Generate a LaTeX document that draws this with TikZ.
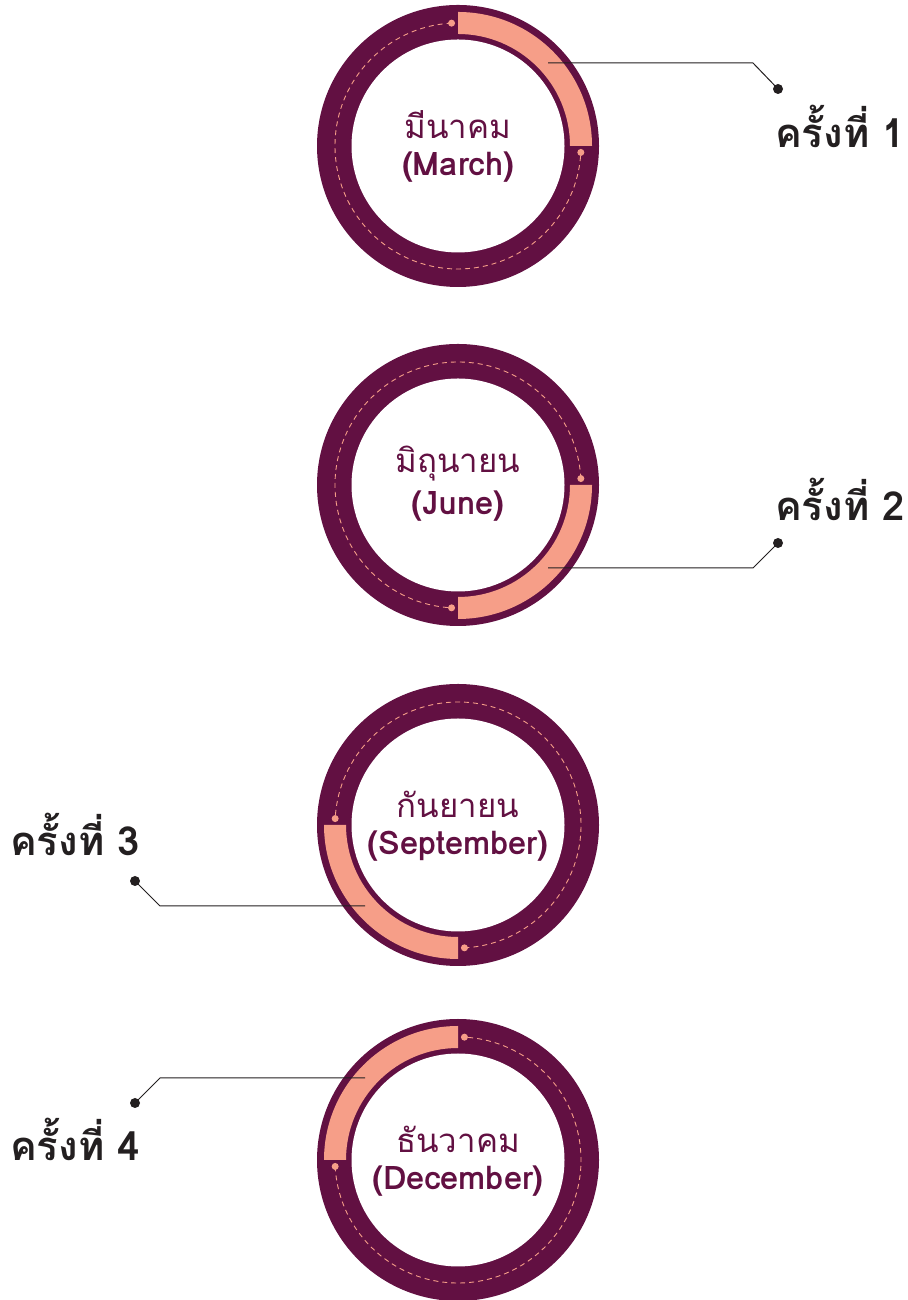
\documentclass[tikz,border=0pt]{standalone}
\usepackage{fontspec}
\newfontfamily\thaifont[Script=Thai]{Loma}
\definecolor{plum}{HTML}{621042}
\definecolor{salmon}{HTML}{F69E88}
\definecolor{ink}{HTML}{231F20}
\tikzset{
  ring/.style={circle, fill=plum, draw=none, inner sep=0pt, minimum size=282pt},
  hole/.style={circle, fill=white, draw=none, inner sep=0pt, minimum size=213pt},
  band/.style={fill=salmon},
  track/.style={draw=salmon, line width=0.9pt, dash pattern=on 5pt off 4pt},
  enddot/.style={circle, fill=salmon, inner sep=0pt, minimum size=7pt},
  leader/.style={draw=ink, line width=1pt},
  pin/.style={circle, fill=ink, inner sep=0pt, minimum size=10pt},
  month/.style={font=\thaifont\fontsize{33}{36}\selectfont, text=plum, inner sep=0pt},
  monthen/.style={font=\thaifont\bfseries\fontsize{32.5}{35}\selectfont, text=plum, inner sep=0pt},
  roundlabel/.style={font=\thaifont\bfseries\fontsize{40}{44}\selectfont, text=ink, anchor=west, inner sep=0pt}
}
\newcommand\monthdial[7]{%
  \begin{scope}[shift={(#2,#3)}]
    \node[ring] (#1) at (0,0) {};
    \fill[band] (#4:134) arc[start angle=#4, end angle=#5, radius=134]
      -- (#5:112) arc[start angle=#5, end angle=#4, radius=112] -- cycle;
    \node[hole] (#1h) at (0,0) {};
    \draw[track] (#5+3:123) arc[start angle=#5+3, end angle=#4+357, radius=123];
    \node[enddot] (#1s) at (#5+3:123) {};
    \node[enddot] (#1e) at (#4+357:123) {};
    \node[month] (#1t) at (0,21) {#6};
    \node[monthen] (#1n) at (0,-21) {#7};
  \end{scope}}
\begin{document}
\begin{tikzpicture}[x=1pt,y=1pt]
\useasboundingbox (0,0) rectangle (907,1300);
\monthdial{d1}{458}{1154}{0}{90}{มีนาคม}{(March)}
\monthdial{d2}{458}{815}{-90}{0}{มิถุนายน}{(June)}
\monthdial{d3}{458}{475}{180}{270}{กันยายน}{(September)}
\monthdial{d4}{458}{140}{90}{180}{ธันวาคม}{(December)}
% leaders
\coordinate (b1) at (548,1237); \coordinate (k1) at (753,1237);
\node[pin] (p1) at (778,1211) {};
\draw[leader] (b1) -- (k1) -- (p1.center);
\node[roundlabel] (r1) at (775,1174) {ครั้งที่ 1};
\coordinate (b2) at (548,732); \coordinate (k2) at (753,732);
\node[pin] (p2) at (778,757) {};
\draw[leader] (b2) -- (k2) -- (p2.center);
\node[roundlabel] (r2) at (775,801) {ครั้งที่ 2};
\coordinate (b3) at (365,394); \coordinate (k3) at (160,394);
\node[pin] (p3) at (135,419) {};
\draw[leader] (b3) -- (k3) -- (p3.center);
\node[roundlabel] (r3) at (10,466) {ครั้งที่ 3};
\coordinate (b4) at (365,222); \coordinate (k4) at (160,222);
\node[pin] (p4) at (135,197) {};
\draw[leader] (b4) -- (k4) -- (p4.center);
\node[roundlabel] (r4) at (10,161) {ครั้งที่ 4};
\end{tikzpicture}
\end{document}
